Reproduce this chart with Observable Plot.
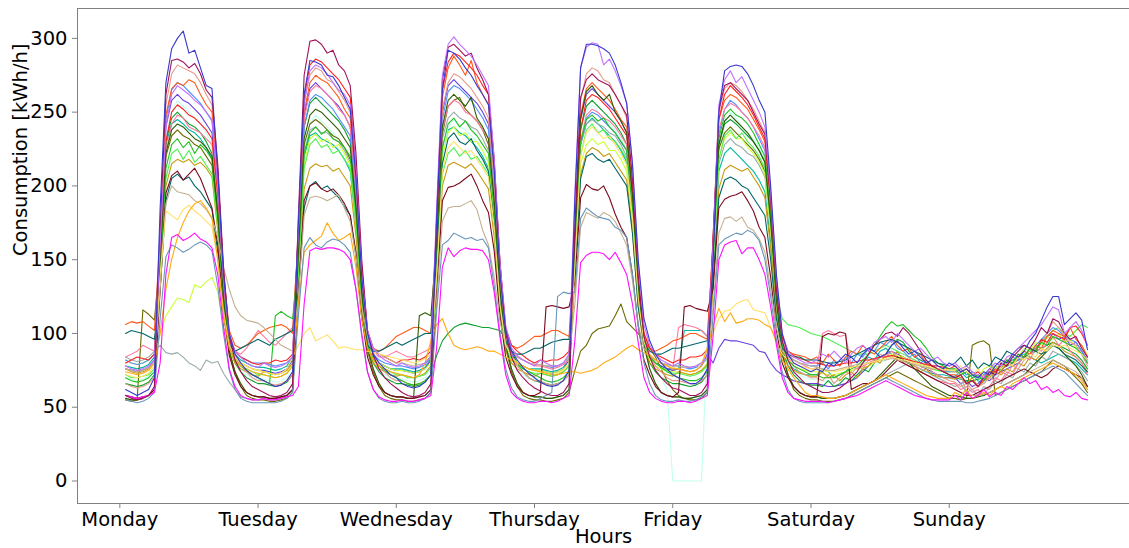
<!DOCTYPE html>
<html><head><meta charset="utf-8">
<script src="https://cdn.jsdelivr.net/npm/d3@7"></script>
<script src="https://cdn.jsdelivr.net/npm/@observablehq/plot@0.6"></script>
<style>body{margin:0;background:#fff;overflow:hidden} #chart svg{font-family:"DejaVu Sans",sans-serif;display:block}</style>
</head><body><div id="chart"></div><div id="warn" style="color:red"></div>
<script>
const dayLabels = ["Monday","Tuesday","Wednesday","Thursday","Friday","Saturday","Sunday"];
const dayTicks = [0,24,48,72,96,120,144];
const yTicks = [0,50,100,150,200,250,300];
const xDomain = [-7.35, 175.3];
const yDomain = [-15.25, 320.25];

const s01 = [
[62,60,58,60,62,70, 185,270,293,300,305,290, 292,280,268,266,210,140, 100,86,80,75,72,70],
[68,66,64,65,68,74, 175,262,285,284,282,275, 274,268,260,252,205,138, 100,86,80,76,72,70],
[66,64,63,64,67,72, 178,265,292,290,286,280, 275,268,262,255,210,140, 102,88,82,77,73,70],
[67,65,64,65,68,75, 190,280,296,296,295,293, 290,282,270,256,215,150, 110,95,86,80,76,72],
[70,68,66,66,69,76, 150,250,278,281,282,281, 276,268,258,250,200,140, 100,86,80,78,76,74],
[76,74,80,78,82,86, 84,80,86,90,88,84, 86,92,95,90,86,88, 84,80,82,78,76,80],
[78,74,76,72,70,74, 72,78,82,80,86,84, 88,95,100,109,118,125, 125,106,110,114,109,89]];
const s02 = [
[78,76,75,76,78,82, 160,240,262,268,265,262, 258,255,250,245,200,135, 100,88,84,80,78,77],
[80,78,77,78,80,84, 170,255,278,282,280,276, 270,265,262,255,210,140, 102,90,85,82,80,78],
[80,78,77,78,80,85, 185,275,296,301,296,292, 288,282,275,268,218,148, 105,90,85,82,80,78],
[82,80,78,78,80,86, 195,280,294,297,296,282, 286,278,268,256,215,148, 106,92,86,82,80,78],
[80,78,77,78,80,85, 160,255,272,278,270,274, 266,258,250,240,195,138, 100,88,84,82,80,80],
[82,86,84,88,84,80, 86,90,92,88,94,96, 98,94,100,96,92,88, 90,86,82,84,80,78],
[80,76,78,74,72,70, 76,80,78,84,86,90, 94,98,102,106,112,118, 116,100,104,108,102,92]];
const s03 = [
[58,56,55,56,58,64, 170,262,285,286,284,280, 283,276,265,260,215,145, 98,82,74,68,64,62],
[60,58,57,58,60,66, 180,275,298,299,296,290, 292,282,278,268,222,150, 102,85,76,70,66,63],
[60,58,57,58,60,66, 178,272,294,296,292,288, 290,280,272,262,218,148, 100,84,75,70,66,63],
[61,59,58,58,60,66, 172,260,272,276,272,270, 268,262,255,248,205,140, 98,84,75,70,66,63],
[62,60,58,58,60,66, 165,252,268,270,266,262, 258,250,242,235,190,130, 95,82,74,70,66,64],
[62,60,60,61,63,66, 70,74,80,86,92,96, 100,101,98,104,100,94, 88,82,78,76,74,72],
[70,72,66,68,64,70, 74,72,80,78,84,88, 92,90,96,104,100,110, 108,100,96,98,90,84]];
const s04 = [
[80,82,84,83,82,86, 150,230,250,255,252,248, 246,242,238,232,195,135, 98,88,84,82,80,79],
[80,80,82,81,82,86, 170,260,282,286,284,280, 276,272,266,260,212,145, 102,90,86,84,82,80],
[82,82,83,82,84,88, 175,265,284,290,288,284, 280,275,268,262,215,148, 104,92,88,85,82,80],
[82,81,82,82,84,88, 160,238,258,262,260,256, 252,246,240,234,195,135, 100,90,86,84,82,80],
[82,82,84,84,85,89, 165,245,262,268,264,260, 255,248,240,232,190,132, 98,88,85,83,82,80],
[80,79,78,78,79,80, 80,81,82,82,83,84, 84,85,84,83,82,81, 80,79,78,78,77,76],
[78,74,76,72,74,70, 76,74,78,82,80,86, 84,90,88,96,94,100, 98,96,104,105,100,92]];
const s05 = [
[106,108,107,108,105,102, 165,248,266,270,268,272, 270,262,255,250,208,142, 102,92,90,92,96,100],
[102,104,105,106,104,100, 168,250,270,275,272,270, 265,260,252,246,205,140, 100,90,88,90,94,98],
[100,102,104,104,102,100, 172,260,280,288,282,275, 285,270,262,255,212,145, 102,92,90,92,95,98],
[98,100,102,102,100,98, 165,248,266,270,266,262, 258,252,245,240,200,138, 100,90,88,90,92,95],
[96,98,100,100,98,96, 160,245,258,262,260,256, 252,245,238,230,188,130, 98,88,86,85,84,82],
[84,80,86,82,78,84, 88,86,92,88,86,90, 94,98,92,88,90,84, 86,80,78,76,74,72],
[72,70,66,68,64,68, 72,76,74,80,78,84, 88,86,92,90,98,102, 100,98,104,96,92,84]];
const s06 = [
[84,86,88,92,90,88, 150,222,242,248,246,240, 238,236,232,228,190,130, 96,88,86,90,96,102],
[98,94,92,96,100,104, 165,245,264,268,266,262, 258,252,248,240,198,136, 98,88,84,84,86,88],
[86,84,84,86,88,90, 160,238,254,258,256,250, 248,244,238,232,192,132, 96,88,84,82,80,78],
[78,77,76,77,79,82, 155,230,248,252,250,246, 244,240,234,228,188,130, 95,86,82,80,78,76],
[104,106,105,104,102,98, 160,238,252,256,254,250, 246,240,234,226,185,128, 94,86,82,80,78,76],
[76,100,102,100,98,99, 78,76,78,80,82,84, 86,84,82,80,78,76, 74,72,70,68,67,66],
[66,62,64,60,62,58, 64,70,68,74,72,80, 84,82,90,88,94,98, 92,96,88,84,80,72]];
const s07 = [
[66,64,63,64,66,70, 165,255,276,282,280,278, 276,270,262,255,210,142, 98,84,78,74,70,68],
[68,66,65,66,68,72, 168,258,275,280,278,272, 270,264,258,250,205,140, 98,84,78,74,70,68],
[68,66,65,66,68,72, 165,252,270,276,274,270, 266,260,254,246,202,138, 97,84,78,74,70,68],
[68,66,65,66,68,72, 170,258,276,280,278,272, 270,262,255,246,202,138, 98,84,78,74,70,68],
[68,67,66,66,68,72, 162,250,266,270,268,264, 258,252,244,236,192,132, 96,84,78,74,72,70],
[70,68,72,66,70,74, 72,78,76,82,80,86, 84,88,84,80,84,78, 76,80,74,72,70,68],
[67,64,66,62,64,66, 70,68,74,72,78,76, 82,86,88,94,100,108, 104,98,94,92,86,78]];
const s08 = [
[82,80,79,80,82,86, 160,245,265,270,268,264, 260,256,250,244,200,136, 98,88,84,82,80,80],
[80,79,78,79,80,84, 158,240,258,262,260,256, 252,246,240,234,192,132, 96,86,82,80,79,78],
[78,77,76,77,79,84, 160,245,264,268,266,262, 258,252,246,238,196,134, 98,88,84,82,80,79],
[79,78,77,78,80,84, 150,228,246,250,248,244, 240,236,230,224,185,128, 95,86,82,80,79,78],
[78,77,76,77,79,83, 155,235,252,258,255,250, 246,240,232,224,182,126, 94,85,82,80,79,78],
[78,80,76,82,78,84, 80,86,84,90,88,94, 92,96,90,88,84,86, 80,82,78,76,74,74],
[74,76,72,74,70,72, 76,74,80,78,84,82, 88,86,92,96,100,104, 102,98,96,94,88,80]];
const s09 = [
[70,68,67,68,70,74, 140,212,228,232,226,230, 222,228,224,218,182,125, 92,82,78,75,72,70],
[68,66,112,115,112,110, 150,222,236,240,235,238, 232,230,226,220,182,126, 92,82,78,75,72,70],
[68,66,65,66,68,72, 150,226,242,246,240,244, 238,234,228,222,184,128, 94,84,80,76,74,72],
[70,68,67,68,70,74, 152,230,245,248,244,246, 240,236,230,224,186,128, 95,84,80,77,74,72],
[70,69,68,68,70,74, 155,232,248,252,248,246, 242,236,228,220,180,125, 92,82,78,76,74,72],
[72,70,70,70,72,74, 76,78,82,86,92,98, 104,108,105,106,102,98, 95,90,84,80,78,76],
[76,72,74,70,72,68, 74,78,76,82,80,86, 84,90,88,94,92,98, 96,94,92,90,86,80]];
const s10 = [
[72,70,70,71,72,76, 138,205,222,225,218,224, 216,220,214,208,172,120, 90,82,78,76,74,72],
[72,71,70,71,73,78, 140,212,228,232,226,228, 222,224,218,212,176,122, 92,82,78,76,74,72],
[72,70,70,71,72,77, 138,208,222,226,220,224, 218,220,214,208,172,120, 90,82,78,76,74,73],
[73,72,71,72,74,78, 145,220,238,242,236,238, 232,230,225,218,180,125, 92,84,80,77,75,73],
[73,72,71,72,74,78, 145,218,234,238,232,236, 230,226,220,212,175,128, 110,106,105,104,102,100],
[99,98,96,94,92,90, 88,86,86,86,88,90, 92,90,88,86,84,82, 80,78,76,75,74,74],
[74,76,72,74,70,72, 76,78,74,82,80,84, 86,88,90,94,98,102, 104,100,98,102,106,104]];
const s11 = [
[56,55,55,56,58,62, 150,222,238,242,240,236, 232,230,226,220,182,124, 88,74,66,60,58,57],
[57,56,56,57,58,62, 155,232,248,252,250,246, 242,238,232,226,186,128, 90,76,66,60,58,57],
[57,56,56,112,114,112, 160,240,258,262,258,254, 260,246,240,232,190,130, 92,76,66,60,58,57],
[57,56,56,57,58,62, 165,246,264,268,262,258, 262,250,244,236,194,132, 92,76,66,60,58,57],
[57,56,56,57,58,62, 155,228,244,248,244,240, 236,230,224,216,176,122, 86,72,64,60,58,57],
[57,56,56,56,57,58, 60,62,64,66,68,72, 76,80,84,82,80,76, 72,68,64,62,60,58],
[58,57,56,56,57,58, 60,62,64,66,68,70, 72,76,80,84,88,92, 90,86,82,78,72,64]];
const s12 = [
[76,74,73,74,76,80, 130,200,215,218,216,218, 214,216,212,206,170,118, 90,80,76,74,72,71],
[74,73,72,73,75,80, 128,198,212,215,213,214, 210,212,206,200,166,116, 88,80,76,74,72,71],
[72,71,70,71,73,78, 130,200,214,216,214,212, 215,210,204,198,165,115, 88,80,76,74,72,71],
[73,72,71,72,74,78, 135,208,222,226,224,220, 222,216,210,204,170,118, 90,80,76,74,72,71],
[74,73,72,73,75,79, 130,198,211,214,212,210, 212,206,200,192,158,112, 86,78,75,73,72,71],
[71,74,70,72,68,72, 74,70,76,78,82,80, 86,84,88,82,80,78, 74,76,72,71,70,70],
[69,72,66,70,64,68, 70,74,72,76,74,80, 78,84,82,86,90,94, 92,88,86,84,80,74]];
const s13 = [
[100,102,101,100,98,96, 130,190,205,208,204,206, 200,196,190,184,155,112, 92,88,90,92,94,96],
[94,92,96,98,100,102, 128,185,200,203,198,200, 196,192,186,180,152,110, 92,88,88,90,92,94],
[92,94,96,98,100,100, 150,215,232,236,230,228, 232,224,218,210,175,122, 95,88,86,86,88,90],
[90,92,94,95,96,96, 142,205,220,222,218,216, 218,212,206,200,168,118, 94,88,86,86,88,90],
[90,91,92,93,94,95, 135,192,204,206,204,200, 198,192,186,180,150,110, 90,86,84,84,82,82],
[82,81,80,80,81,82, 84,86,88,90,92,94, 95,96,94,92,90,88, 86,84,82,80,79,78],
[80,84,78,82,76,80, 78,84,82,88,86,90, 92,90,88,86,88,92, 90,86,84,82,78,74]];
const s14 = [
[58,57,56,57,58,62, 130,195,207,210,204,208, 212,205,195,185,160,115, 85,72,64,60,58,57],
[57,56,56,57,58,62, 125,190,200,202,198,196, 198,194,188,180,155,112, 84,72,64,60,58,57],
[57,56,56,57,58,62, 125,190,199,200,202,205, 208,200,190,182,156,112, 84,72,64,60,58,58],
[60,118,119,118,117,118, 135,192,201,198,197,200, 192,181,172,165,140,105, 82,72,64,60,58,57],
[60,118,119,117,116,115, 130,185,191,193,194,196, 190,183,172,165,138,102, 80,70,64,60,58,57],
[57,98,100,99,101,100, 62,64,66,66,68,70, 74,78,82,80,78,76, 74,72,70,68,66,64],
[62,60,58,58,60,62, 64,66,68,70,72,74, 76,74,72,70,72,76, 78,76,74,72,70,64]];
const s15 = [
[76,75,74,75,77,80, 130,188,200,196,195,194, 190,188,184,178,165,145, 130,118,112,109,108,107],
[104,100,96,92,90,88, 125,180,192,193,192,190, 192,194,185,176,152,118, 98,90,86,84,82,80],
[80,79,78,79,80,84, 122,176,185,186,186,188, 190,184,170,160,138,108, 92,86,84,82,80,79],
[79,78,78,78,80,84, 120,172,182,180,178,182, 180,176,168,160,136,106, 90,85,82,80,79,78],
[78,77,77,78,80,83, 118,168,178,179,176,179, 172,170,164,155,130,104, 88,84,82,80,79,78],
[77,76,75,75,76,77, 78,79,80,80,81,82, 82,83,82,81,80,79, 78,77,76,76,75,75],
[74,72,60,58,58,59, 60,62,64,66,68,70, 72,74,76,78,80,82, 80,78,76,74,70,62]];
const s16 = [
[72,71,70,71,73,78, 140,183,180,177,184,187, 183,180,176,172,150,115, 92,84,80,78,76,75],
[74,73,72,73,76,84, 92,100,104,95,97,99, 95,90,91,90,89,89, 88,87,86,85,84,83],
[82,81,80,81,83,86, 140,210,226,230,226,222, 224,218,212,206,172,120, 92,84,80,78,76,75],
[74,73,72,73,75,80, 145,220,236,240,236,232, 234,228,222,214,178,124, 94,86,82,80,78,77],
[76,75,74,75,80,90, 100,110,115,116,120,122, 123,116,115,114,104,93, 86,82,80,78,77,76],
[76,75,74,74,75,76, 77,78,79,80,81,82, 83,84,83,82,81,80, 79,78,77,76,76,75],
[75,78,74,72,76,70, 74,78,76,80,78,84, 82,86,84,90,88,92, 91,92,90,88,86,82]];
const s17 = [
[74,73,72,73,75,80, 100,130,150,165,175,183, 188,190,185,178,150,112, 90,82,78,76,74,73],
[72,71,70,71,73,78, 120,155,160,163,166,175, 168,163,165,168,145,110, 90,82,78,76,74,73],
[72,71,70,72,80,95, 106,110,100,92,90,89, 90,91,90,88,88,86, 84,82,80,78,76,75],
[74,73,72,72,73,74, 74,73,74,75,77,80, 82,84,87,90,92,89, 87,85,82,80,78,76],
[76,75,74,75,78,90, 105,117,108,114,107,108, 110,110,109,106,104,95, 82,76,70,65,60,58],
[58,57,56,56,57,58, 60,62,64,66,68,70, 72,70,68,66,64,62, 60,58,57,56,56,56],
[60,58,62,56,58,60, 58,62,64,62,66,68, 70,72,74,76,78,80, 78,76,74,72,68,62]];
const s18 = [
[55,54,53,54,56,60, 110,152,160,158,155,157, 160,162,160,156,132,100, 75,62,56,54,53,53],
[53,53,53,54,56,60, 112,158,165,160,158,162, 164,163,160,155,130,98, 74,62,56,54,53,53],
[54,53,53,54,56,60, 115,160,163,168,166,164, 165,163,164,158,132,100, 76,63,57,55,54,54],
[56,58,60,125,128,127, 128,178,185,182,179,178, 177,172,170,165,140,106, 80,66,58,55,54,54],
[55,54,54,55,57,60, 112,160,164,166,168,167, 170,168,163,150,125,96, 74,62,56,54,53,53],
[53,53,53,54,55,56, 58,60,62,64,66,68, 70,68,66,64,62,60, 58,56,55,54,54,54],
[54,54,53,53,54,55, 56,58,60,62,64,66, 68,70,72,74,76,78, 76,74,70,66,62,58]];
const s19 = [
[58,57,56,57,58,60, 80,140,165,167,163,165, 168,164,162,158,140,105, 76,64,58,56,55,55],
[56,55,55,56,57,58, 64,120,156,158,157,158, 158,157,155,150,130,100, 74,62,57,55,54,54],
[55,54,54,55,56,58, 90,145,158,152,156,158, 157,157,156,150,128,98, 72,60,56,54,53,53],
[54,54,53,54,56,58, 95,148,153,155,155,154, 150,155,148,140,120,94, 70,60,56,54,53,53],
[54,54,53,54,56,58, 98,150,160,162,163,154, 158,158,150,140,118,92, 70,60,56,55,54,54],
[54,54,53,54,55,56, 57,58,60,62,64,66, 68,66,64,62,60,58, 57,56,55,55,55,55],
[58,55,60,56,58,62, 57,60,58,64,62,66, 70,66,68,62,64,60, 62,58,57,60,56,55]];
const s20 = [
[82,80,79,80,82,86, 100,112,118,124,123,121, 133,131,135,138,128,105, 90,84,80,78,76,75],
[74,73,72,73,75,80, 140,215,232,235,230,232, 226,228,222,214,176,122, 92,84,80,78,76,75],
[75,74,73,74,76,80, 142,220,236,240,234,236, 230,230,224,216,178,124, 92,84,80,78,76,75],
[75,74,73,74,76,80, 140,215,228,232,228,230, 224,224,218,210,172,120, 90,82,78,76,75,74],
[74,73,72,73,75,80, 142,218,232,236,232,232, 226,222,216,208,170,118, 90,82,78,76,75,74],
[74,73,72,72,73,74, 75,76,77,78,80,82, 84,86,85,84,82,80, 78,77,76,75,74,74],
[76,72,78,74,70,76, 78,74,82,80,86,84, 90,88,94,92,98,96, 100,94,96,90,92,85]];
const s21 = [
[84,82,81,82,84,88, 92,87,86,87,84,80, 78,75,82,80,81,73, 67,62,57,56,55,55],
[56,55,55,56,58,62, 145,222,238,240,236,236, 232,230,224,216,178,124, 90,76,66,60,58,57],
[57,56,56,57,58,62, 150,232,246,250,246,244, 240,238,232,224,184,128, 92,76,66,60,58,57],
[57,56,56,57,58,62, 148,228,242,245,242,240, 236,234,228,220,182,126, 92,76,66,60,58,57],
[57,56,56,57,58,62, 140,215,228,232,228,226, 222,220,214,206,170,118, 86,72,64,60,58,57],
[57,56,56,56,57,58, 60,62,64,66,68,70, 72,74,76,78,80,78, 76,74,72,70,68,66],
[64,66,60,62,58,64, 62,68,66,72,70,76, 74,80,78,84,82,88, 86,84,82,78,74,68]];
const s22 = [
[66,65,64,65,67,72, 150,230,246,250,246,242, 240,236,230,222,184,128, 92,80,74,70,68,66],
[66,65,64,65,67,72, 156,240,256,260,256,252, 248,244,238,230,190,130, 94,80,74,70,68,66],
[66,65,64,65,67,72, 85,95,100,104,106,107, 106,105,104,104,103,102, 96,88,80,74,70,68],
[67,66,65,66,68,72, 155,238,254,258,254,250, 246,242,236,228,188,130, 94,80,74,70,68,66],
[66,65,64,65,67,72, 148,228,242,245,242,238, 234,230,224,216,178,124, 90,78,72,68,66,65],
[65,64,68,64,66,70, 68,72,76,74,80,84, 86,92,96,94,88,84, 82,80,78,76,74,72],
[70,69,68,68,69,70, 72,74,76,78,80,82, 84,86,88,90,92,94, 92,90,88,86,82,76]];
const s23 = [
[55,54,55,116,113,109, 150,220,234,238,234,232, 228,226,220,214,176,122, 88,74,64,58,56,55],
[55,54,54,55,56,60, 150,228,242,245,242,238, 234,232,226,218,180,124, 88,74,64,58,56,55],
[55,54,54,55,56,60, 155,235,254,258,260,252, 248,244,238,228,188,128, 90,74,64,58,56,55],
[55,54,54,55,56,60, 75,88,92,100,103,104, 105,112,120,108,104,100, 95,90,84,76,68,62],
[58,56,55,55,56,60, 148,225,236,240,236,232, 228,224,218,210,172,118, 86,72,62,58,56,55],
[55,54,54,54,55,56, 58,60,62,64,66,68, 70,72,74,72,70,68, 66,64,62,60,58,56],
[56,55,56,92,94,95, 92,58,60,62,64,66, 68,70,72,74,78,82, 80,78,74,70,66,60]];
const s24 = [
[76,75,74,75,77,82, 155,240,258,262,258,256, 252,248,242,236,194,132, 96,84,80,78,76,75],
[75,74,73,74,76,82, 160,248,266,270,266,262, 258,254,248,240,198,136, 98,86,80,78,76,75],
[75,74,73,74,76,82, 162,250,268,272,268,264, 260,256,250,242,200,136, 98,86,80,78,76,75],
[75,74,73,74,76,82, 158,245,262,266,262,258, 254,250,244,236,195,134, 96,84,80,78,76,75],
[76,75,74,75,78,86, 80,90,96,95,95,94, 93,92,88,87,80,75, 72,70,68,67,66,66],
[66,65,64,64,65,66, 68,70,74,78,82,84, 86,88,86,84,82,80, 78,76,74,72,70,70],
[70,66,68,64,66,70, 68,72,74,76,78,80, 84,86,90,94,98,100, 96,98,92,94,88,82]];
const s25 = [
[70,69,68,69,71,76, 150,232,250,258,254,250, 246,242,236,228,188,130, 94,82,76,72,70,69],
[69,68,67,68,70,75, 148,225,242,248,244,240, 236,232,226,218,180,126, 92,80,75,72,70,69],
[69,68,67,68,70,75, 146,222,240,245,240,238, 234,230,224,216,178,124, 92,80,75,72,70,69],
[69,68,67,68,70,75, 150,232,250,255,250,246, 242,238,232,224,184,128, 94,82,76,70,62,0],
[0,0,0,0,0,95, 150,225,242,250,246,240, 236,232,226,218,180,124, 92,80,75,72,70,69],
[69,68,67,67,68,69, 70,72,74,76,78,80, 82,84,82,80,78,76, 74,72,71,70,70,69],
[69,72,66,68,64,66, 72,70,76,74,80,78, 84,82,88,86,90,92, 90,88,86,84,80,75]];
const s26 = [
[78,77,76,77,79,84, 145,228,242,245,242,238, 236,232,226,218,180,126, 94,86,82,80,78,77],
[77,76,75,76,78,84, 140,220,234,236,232,230, 228,224,218,210,174,122, 92,84,80,78,76,76],
[76,75,74,75,77,83, 142,224,238,240,236,234, 230,226,220,212,176,122, 92,84,80,78,76,76],
[76,75,74,75,77,83, 145,228,242,246,242,238, 234,230,224,216,178,124, 94,85,80,78,76,76],
[76,102,102,102,102,98, 135,210,222,226,222,218, 214,210,204,196,162,114, 88,80,76,74,72,72],
[72,76,74,70,72,74, 78,76,80,84,82,88, 90,86,84,82,80,78, 76,74,73,72,72,71],
[71,74,70,72,68,66, 72,76,74,80,82,84, 86,84,82,80,82,84, 86,84,82,80,76,72]];

const seriesNames = ["s26","s25","s24","s23","s22","s21","s20","s12","s10","s08","s07","s06","s05","s04","s09","s11","s13","s14","s15","s16","s17","s18","s19","s03","s02","s01"];
const seriesData = {s01,s02,s03,s04,s05,s06,s07,s08,s09,s10,s11,s12,s13,s14,s15,s16,s17,s18,s19,s20,s21,s22,s23,s24,s25,s26};
const seriesColors = {s01:"#3838cc",s02:"#c070ff",s03:"#a0105a",s04:"#ff2020",s05:"#ff5a1a",s06:"#ff7aa0",s07:"#e89a8a",s08:"#4f8fff",s09:"#20c020",s10:"#50f050",s11:"#2d5a00",s12:"#c89a10",s13:"#006666",s14:"#7a0a1e",s15:"#c4b090",s16:"#ffe066",s17:"#ffaa10",s18:"#6a96ba",s19:"#ff10ff",s20:"#ccff33",s21:"#9aabab",s22:"#10a030",s23:"#6a6a00",s24:"#6a40e0",s25:"#c0fff0",s26:"#00b8a0"};

const warn = [];
const rows = [];
for (const name of seriesNames) {
  const days = seriesData[name];
  days.forEach((d, di) => { if (d.length !== 24) warn.push(name + " day " + di + " has " + d.length); });
  days.flat().forEach((v, i) => rows.push({week: name, hour: i + 1, value: v, color: seriesColors[name]}));
}
document.getElementById("warn").textContent = warn.join("; ");

const fs = "19.5px";
const spine = "#808080";
const chart = Plot.plot({
  width: 1129, height: 548,
  marginLeft: 77, marginRight: 0, marginTop: 8, marginBottom: 45,
  style: {fontFamily: "DejaVu Sans", fontSize: fs, background: "white", color: "black"},
  x: {domain: xDomain, label: null},
  y: {domain: yDomain, label: null},
  color: {type: "identity"},
  marks: [
    Plot.line(rows, {x: "hour", y: "value", z: "week", stroke: "color", strokeWidth: 1.1, curve: "linear"}),
    Plot.ruleX([xDomain[0]], {stroke: spine}),
    Plot.ruleY([yDomain[1]], {stroke: spine}),
    Plot.ruleY([yDomain[0]], {stroke: spine}),
    Plot.axisX({ticks: dayTicks, tickFormat: d => dayLabels[dayTicks.indexOf(d)], tickSize: 5, tickPadding: 4, stroke: spine, fill: "black", fontSize: fs, label: null}),
    Plot.axisY({ticks: yTicks, tickFormat: d => String(d), tickSize: 5, tickPadding: 5, stroke: spine, fill: "black", fontSize: fs, label: null}),
    Plot.text(["Hours"], {frameAnchor: "bottom", dy: 39, fontSize: fs, fill: "black"}),
    Plot.text(["Consumption [kWh/h]"], {frameAnchor: "left", dx: -57, rotate: -90, fontSize: fs, fill: "black"})
  ]
});
document.getElementById("chart").appendChild(chart);
</script>
</body></html>
